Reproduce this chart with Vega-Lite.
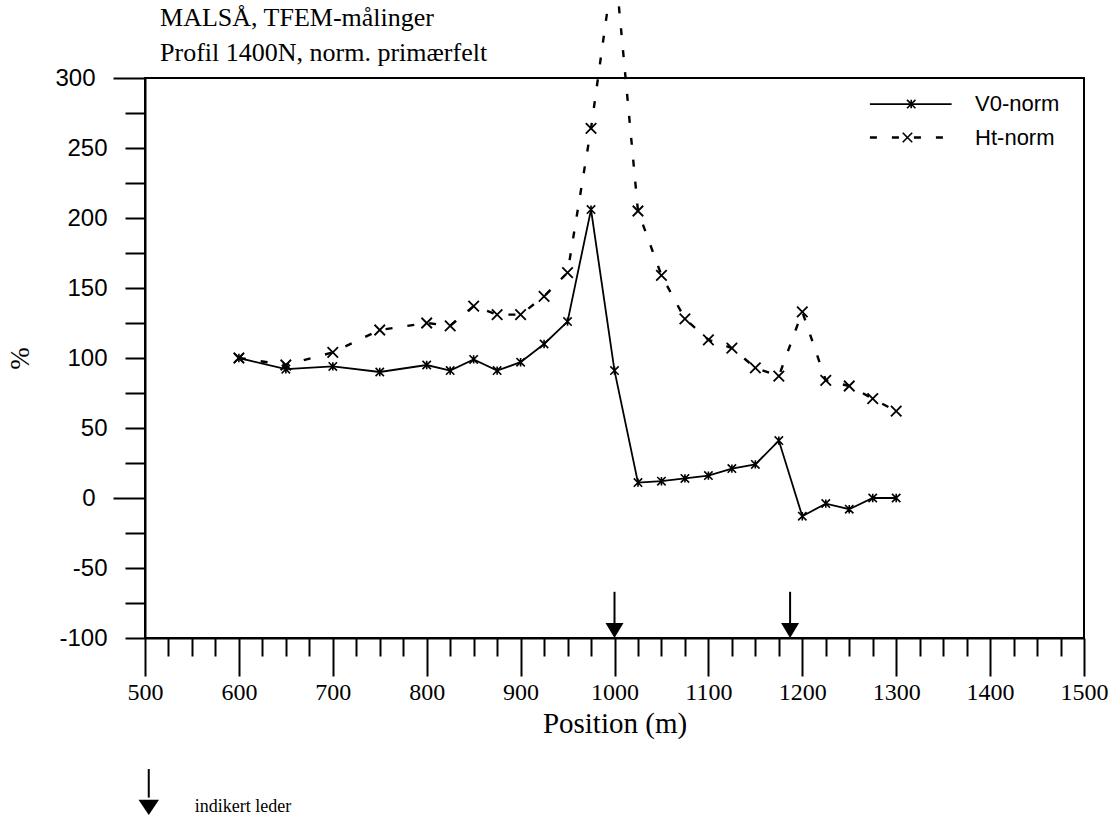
{
  "$schema": "https://vega.github.io/schema/vega-lite/v6.json",
  "autosize": {"type": "none"},
  "padding": {"left": 145, "top": 78, "right": 35, "bottom": 187},
  "width": 939,
  "height": 560,
  "background": "white",
  "config": {
    "view": {"stroke": "black", "strokeWidth": 2},
    "axis": {"grid": false, "domainColor": "black", "domainWidth": 2, "tickColor": "black", "tickWidth": 2, "labelColor": "black", "titleColor": "black", "titleFontWeight": "normal"}
  },
  "datasets": {
    "series": [
      {"s": "V0", "pos": 600, "val": 100}, {"s": "V0", "pos": 650, "val": 92}, {"s": "V0", "pos": 700, "val": 94},
      {"s": "V0", "pos": 750, "val": 90}, {"s": "V0", "pos": 800, "val": 95}, {"s": "V0", "pos": 825, "val": 91},
      {"s": "V0", "pos": 850, "val": 99}, {"s": "V0", "pos": 875, "val": 91}, {"s": "V0", "pos": 900, "val": 97},
      {"s": "V0", "pos": 925, "val": 110}, {"s": "V0", "pos": 950, "val": 126}, {"s": "V0", "pos": 975, "val": 206},
      {"s": "V0", "pos": 1000, "val": 91}, {"s": "V0", "pos": 1025, "val": 11}, {"s": "V0", "pos": 1050, "val": 12},
      {"s": "V0", "pos": 1075, "val": 14}, {"s": "V0", "pos": 1100, "val": 16}, {"s": "V0", "pos": 1125, "val": 21},
      {"s": "V0", "pos": 1150, "val": 24}, {"s": "V0", "pos": 1175, "val": 41}, {"s": "V0", "pos": 1200, "val": -13},
      {"s": "V0", "pos": 1225, "val": -4}, {"s": "V0", "pos": 1250, "val": -8}, {"s": "V0", "pos": 1275, "val": 0},
      {"s": "V0", "pos": 1300, "val": 0},
      {"s": "Ht", "pos": 600, "val": 100}, {"s": "Ht", "pos": 650, "val": 95}, {"s": "Ht", "pos": 700, "val": 104},
      {"s": "Ht", "pos": 750, "val": 120}, {"s": "Ht", "pos": 800, "val": 125}, {"s": "Ht", "pos": 825, "val": 123},
      {"s": "Ht", "pos": 850, "val": 137}, {"s": "Ht", "pos": 875, "val": 131}, {"s": "Ht", "pos": 900, "val": 131},
      {"s": "Ht", "pos": 925, "val": 144}, {"s": "Ht", "pos": 950, "val": 161}, {"s": "Ht", "pos": 975, "val": 264},
      {"s": "Ht", "pos": 1000, "val": 385}, {"s": "Ht", "pos": 1025, "val": 205}, {"s": "Ht", "pos": 1050, "val": 159},
      {"s": "Ht", "pos": 1075, "val": 128}, {"s": "Ht", "pos": 1100, "val": 113}, {"s": "Ht", "pos": 1125, "val": 107},
      {"s": "Ht", "pos": 1150, "val": 93}, {"s": "Ht", "pos": 1175, "val": 87}, {"s": "Ht", "pos": 1200, "val": 133},
      {"s": "Ht", "pos": 1225, "val": 84}, {"s": "Ht", "pos": 1250, "val": 80}, {"s": "Ht", "pos": 1275, "val": 71},
      {"s": "Ht", "pos": 1300, "val": 62}
    ],
    "arrows": [
      {"kind": "plot", "pos": 1000, "val": -94.6, "top": -67, "bot": -90},
      {"kind": "plot", "pos": 1187, "val": -94.6, "top": -67, "bot": -90},
      {"kind": "key", "pos": 504, "val": -221, "top": -193.6, "bot": -214}
    ],
    "legendlines": [
      {"s": "V0", "pos": 1272, "pos2": 1359, "val": 281.4, "mpos": 1316},
      {"s": "Ht", "pos": 1272, "pos2": 1352, "val": 257.5, "mpos": 1312}
    ],
    "texts": [
      {"kind": "title", "pos": 516, "val": 337.5, "txt": "MALSÅ, TFEM-målinger"},
      {"kind": "title", "pos": 516, "val": 312, "txt": "Profil 1400N, norm. primærfelt"},
      {"kind": "legend", "pos": 1384, "val": 281.4, "txt": "V0-norm"},
      {"kind": "legend", "pos": 1384, "val": 257.5, "txt": "Ht-norm"},
      {"kind": "note", "pos": 553, "val": -220.7, "txt": "indikert leder"}
    ]
  },
  "encoding": {
    "x": {
      "field": "pos", "type": "quantitative",
      "scale": {"domain": [500, 1500], "nice": false, "zero": false},
      "axis": {
        "title": "Position (m)",
        "values": [500, 525, 550, 575, 600, 625, 650, 675, 700, 725, 750, 775, 800, 825, 850, 875, 900, 925, 950, 975, 1000, 1025, 1050, 1075, 1100, 1125, 1150, 1175, 1200, 1225, 1250, 1275, 1300, 1325, 1350, 1375, 1400, 1425, 1450, 1475, 1500],
        "labelExpr": "datum.value % 100 === 0 ? '' + datum.value : ''",
        "labelFlush": false, "labelOverlap": false,
        "tickSize": {"condition": {"test": "datum.value % 100 === 0", "value": 38}, "value": 18},
        "labelPadding": 4,
        "labelFont": "Liberation Serif", "labelFontSize": 24,
        "titleFont": "Liberation Serif", "titleFontSize": 29,
        "titleY": 85, "titleBaseline": "middle"
      }
    },
    "y": {
      "field": "val", "type": "quantitative",
      "scale": {"domain": [-100, 300], "nice": false, "zero": false},
      "axis": {
        "title": "%",
        "values": [-100, -75, -50, -25, 0, 25, 50, 75, 100, 125, 150, 175, 200, 225, 250, 275, 300],
        "labelExpr": "datum.value % 50 === 0 ? '' + datum.value : ''",
        "labelFlush": false, "labelOverlap": false,
        "tickSize": {"condition": {"test": "datum.value === 300 || datum.value === 0", "value": 32}, "value": 20},
        "labelPadding": 18,
        "labelFont": "Liberation Sans", "labelFontSize": 24,
        "titleFont": "Liberation Serif", "titleFontSize": 27,
        "titleX": -125, "titleY": 280, "titleBaseline": "middle"
      }
    }
  },
  "layer": [
    {
      "data": {"name": "series"},
      "transform": [{"filter": "datum.s === 'V0'"}],
      "mark": {"type": "line", "color": "black", "strokeWidth": 1.8}
    },
    {
      "data": {"name": "series"},
      "transform": [{"filter": "datum.s === 'V0'"}],
      "mark": {"type": "point", "shape": "M-1,-1L1,1M-1,1L1,-1M0,-1L0,1", "size": 70, "filled": false, "stroke": "black", "strokeWidth": 1.6, "opacity": 1}
    },
    {
      "data": {"name": "series"},
      "transform": [{"filter": "datum.s === 'Ht'"}],
      "mark": {"type": "line", "color": "black", "strokeWidth": 2.4, "strokeDash": [7, 15]}
    },
    {
      "data": {"name": "series"},
      "transform": [{"filter": "datum.s === 'Ht' && datum.val <= 300"}],
      "mark": {"type": "point", "shape": "M-1,-1L1,1M-1,1L1,-1", "size": 110, "filled": false, "stroke": "black", "strokeWidth": 1.8, "opacity": 1}
    },
    {
      "data": {"name": "arrows"},
      "mark": {"type": "rule", "color": "black", "strokeWidth": 2},
      "encoding": {"y": {"field": "top", "type": "quantitative"}, "y2": {"field": "bot"}}
    },
    {
      "data": {"name": "arrows"},
      "transform": [{"filter": "datum.kind === 'plot'"}],
      "mark": {"type": "point", "shape": "M-1,-0.83L1,-0.83L0,0.83Z", "size": 324, "filled": true, "color": "black", "opacity": 1}
    },
    {
      "data": {"name": "arrows"},
      "transform": [{"filter": "datum.kind === 'key'"}],
      "mark": {"type": "point", "shape": "M-1,-0.75L1,-0.75L0,0.75Z", "size": 420, "filled": true, "color": "black", "opacity": 1}
    },
    {
      "data": {"name": "legendlines"},
      "transform": [{"filter": "datum.s === 'V0'"}],
      "mark": {"type": "rule", "color": "black", "strokeWidth": 1.8},
      "encoding": {"x2": {"field": "pos2"}}
    },
    {
      "data": {"name": "legendlines"},
      "transform": [{"filter": "datum.s === 'Ht'"}],
      "mark": {"type": "rule", "color": "black", "strokeWidth": 2.4, "strokeDash": [7, 15]},
      "encoding": {"x2": {"field": "pos2"}}
    },
    {
      "data": {"name": "legendlines"},
      "transform": [{"filter": "datum.s === 'V0'"}],
      "mark": {"type": "point", "shape": "M-1,-1L1,1M-1,1L1,-1M0,-1L0,1", "size": 70, "filled": false, "stroke": "black", "strokeWidth": 1.6, "opacity": 1},
      "encoding": {"x": {"field": "mpos", "type": "quantitative"}}
    },
    {
      "data": {"name": "legendlines"},
      "transform": [{"filter": "datum.s === 'Ht'"}],
      "mark": {"type": "point", "shape": "M-1,-1L1,1M-1,1L1,-1", "size": 90, "filled": false, "stroke": "black", "strokeWidth": 1.6, "opacity": 1},
      "encoding": {"x": {"field": "mpos", "type": "quantitative"}}
    },
    {
      "data": {"name": "texts"},
      "transform": [{"filter": "datum.kind === 'title'"}],
      "mark": {"type": "text", "align": "left", "baseline": "alphabetic", "font": "Liberation Serif", "fontSize": 26, "color": "black"},
      "encoding": {"text": {"field": "txt"}}
    },
    {
      "data": {"name": "texts"},
      "transform": [{"filter": "datum.kind === 'legend'"}],
      "mark": {"type": "text", "align": "left", "baseline": "middle", "font": "Liberation Sans", "fontSize": 22, "color": "black"},
      "encoding": {"text": {"field": "txt"}}
    },
    {
      "data": {"name": "texts"},
      "transform": [{"filter": "datum.kind === 'note'"}],
      "mark": {"type": "text", "align": "left", "baseline": "middle", "font": "Liberation Serif", "fontSize": 18, "color": "black"},
      "encoding": {"text": {"field": "txt"}}
    }
  ]
}
